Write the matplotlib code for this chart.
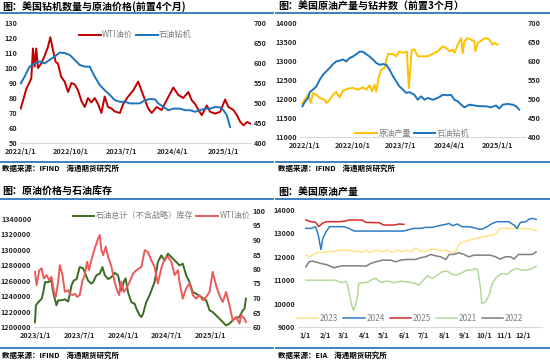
import matplotlib
matplotlib.use('Agg')
from matplotlib import pyplot as plt
from matplotlib.lines import Line2D
import pandas as pd

plt.rcParams['font.family'] = ['Noto Sans CJK SC', 'DejaVu Sans']
plt.rcParams['axes.unicode_minus'] = False

# ---- 图1: 美国钻机数量与原油价格(前置4个月) ----
wti1_dates = ['2022-01-03', '2022-02-02', '2022-03-01', '2022-03-10', '2022-03-19', '2022-03-28',
              '2022-04-06', '2022-04-24', '2022-05-12', '2022-05-30', '2022-06-12', '2022-06-26',
              '2022-07-11', '2022-07-23', '2022-08-10', '2022-08-28', '2022-09-16', '2022-10-04',
              '2022-10-22', '2022-11-09', '2022-11-27', '2022-12-15', '2023-01-02', '2023-01-20',
              '2023-02-07', '2023-02-25', '2023-03-15', '2023-04-02', '2023-04-20', '2023-05-09',
              '2023-05-27', '2023-06-23', '2023-07-11', '2023-08-07', '2023-09-03', '2023-09-30',
              '2023-10-27', '2023-11-23', '2023-12-12', '2024-01-08', '2024-02-04', '2024-03-02',
              '2024-04-07', '2024-05-04', '2024-05-31', '2024-06-27', '2024-07-15', '2024-08-03',
              '2024-08-21', '2024-09-08', '2024-10-05', '2024-10-23', '2024-11-19', '2024-12-16',
              '2025-01-12', '2025-01-30', '2025-02-26', '2025-03-17', '2025-04-04', '2025-04-22',
              '2025-05-10', '2025-05-28']
wti1_vals = [73, 86, 93, 113, 101, 113, 100, 103, 108, 114, 120.5, 112, 104, 103, 94, 91, 84, 90,
             89, 85, 78, 74, 80, 77, 80, 76, 70, 81, 74, 73, 71, 70, 76, 81, 85, 91, 82, 73, 70,
             74, 72, 78.6, 87, 82, 80, 84, 78.6, 76, 72, 68.5, 75, 70.8, 69.6, 70.8, 79, 74, 72,
             68.5, 64, 61.8, 64, 63]
rig1_dates = ['2022-01-03', '2022-01-24', '2022-02-20', '2022-03-19', '2022-04-15', '2022-05-12',
              '2022-06-08', '2022-07-05', '2022-08-01', '2022-08-28', '2022-09-25', '2022-10-22',
              '2022-11-18', '2022-12-15', '2023-01-11', '2023-02-07', '2023-03-06', '2023-04-02',
              '2023-04-30', '2023-05-27', '2023-06-23', '2023-07-20', '2023-08-16', '2023-09-12',
              '2023-10-09', '2023-11-05', '2023-12-03', '2023-12-30', '2024-01-17', '2024-02-13',
              '2024-03-11', '2024-04-07', '2024-05-13', '2024-06-09', '2024-07-06', '2024-08-03',
              '2024-08-30', '2024-09-26', '2024-10-23', '2024-11-19', '2024-12-16', '2025-01-03',
              '2025-01-21', '2025-02-08']
rig1_vals = [549, 566, 591, 599, 604, 599, 608, 616, 626, 625, 620, 608, 595, 591, 591, 566, 545,
             532, 520, 507, 503, 503, 499, 499, 499, 507, 510, 509, 499, 490, 482, 486, 486, 482,
             482, 478, 482, 486, 486, 490, 489, 482, 470, 440]

# ---- 图2: 美国原油产量与钻井数(前置3个月) ----
prod_dates = ['2021-12-19', '2022-01-01', '2022-01-20', '2022-02-04', '2022-02-17', '2022-03-08',
              '2022-03-27', '2022-04-24', '2022-05-04', '2022-05-23', '2022-06-11', '2022-06-29',
              '2022-07-18', '2022-08-06', '2022-09-04', '2022-10-02', '2022-10-30', '2022-11-28',
              '2022-12-16', '2023-01-04', '2023-01-18', '2023-02-02', '2023-02-11', '2023-02-24',
              '2023-03-11', '2023-03-30', '2023-04-18', '2023-05-17', '2023-06-04', '2023-06-23',
              '2023-07-12', '2023-08-04', '2023-08-15', '2023-09-01', '2023-09-16', '2023-10-05',
              '2023-12-01', '2024-01-08', '2024-01-27', '2024-02-24', '2024-03-14', '2024-04-02',
              '2024-04-21', '2024-04-30', '2024-05-19', '2024-06-07', '2024-06-16', '2024-06-26',
              '2024-07-15', '2024-08-03', '2024-08-21', '2024-08-27', '2024-09-09', '2024-10-08',
              '2024-10-26', '2024-11-14', '2024-12-03', '2024-12-13', '2025-01-01']
prod_vals = [11895, 11983, 12114, 11895, 12158, 12114, 12027, 11983, 11895, 11983, 12114, 12185,
             12044, 12220, 12272, 12290, 12246, 12307, 12246, 12360, 12202, 12377, 12185, 12553,
             12772, 12816, 13184, 13184, 13123, 13254, 13211, 13250, 12290, 13298, 13298, 13123,
             13123, 13211, 13254, 13386, 13342, 13254, 13298, 13211, 13430, 13605, 13211, 13518,
             13605, 13561, 13518, 13254, 13474, 13561, 13605, 13561, 13430, 13474, 13430]
rig2_dates = ['2021-12-19', '2022-01-01', '2022-01-20', '2022-01-29', '2022-02-17', '2022-03-08',
              '2022-03-27', '2022-04-15', '2022-05-04', '2022-05-23', '2022-06-11', '2022-06-29',
              '2022-07-18', '2022-08-06', '2022-08-25', '2022-09-13', '2022-10-02', '2022-10-21',
              '2022-11-09', '2022-11-28', '2022-12-16', '2023-01-04', '2023-01-23', '2023-02-11',
              '2023-03-02', '2023-03-21', '2023-04-09', '2023-04-28', '2023-05-17', '2023-06-04',
              '2023-06-23', '2023-07-12', '2023-07-31', '2023-08-19', '2023-09-16', '2023-10-05',
              '2023-10-24', '2023-11-12', '2023-12-01', '2023-12-29', '2024-01-27', '2024-02-24',
              '2024-03-23', '2024-04-11', '2024-04-30', '2024-05-19', '2024-06-07', '2024-06-26',
              '2024-07-24', '2024-08-21', '2024-09-19', '2024-10-26', '2024-11-24', '2024-12-22',
              '2025-01-10', '2025-01-29', '2025-02-26', '2025-03-27', '2025-04-15', '2025-05-03']
rig2_vals = [481, 492, 503, 518, 525, 533, 551, 564, 573, 582, 592, 599, 601, 604, 599, 608, 612,
             618, 625, 624, 618, 612, 604, 595, 590, 592, 590, 577, 560, 547, 533, 525, 516, 518,
             511, 498, 507, 498, 503, 498, 503, 511, 510, 511, 498, 494, 485, 478, 485, 483, 481,
             481, 478, 483, 475, 485, 487, 485, 481, 472]

# ---- 图3: 原油价格与石油库存 ----
stock_dates = ['2022-12-28', '2023-01-01', '2023-01-11', '2023-01-25', '2023-02-01', '2023-02-08',
               '2023-02-21', '2023-03-07', '2023-03-14', '2023-03-21', '2023-03-28', '2023-04-04',
               '2023-04-18', '2023-05-02', '2023-05-16', '2023-05-23', '2023-05-30', '2023-06-08',
               '2023-06-20', '2023-07-03', '2023-07-17', '2023-07-29', '2023-08-07', '2023-08-21',
               '2023-08-28', '2023-09-11', '2023-09-25', '2023-10-06', '2023-10-16', '2023-10-30',
               '2023-11-13', '2023-11-26', '2023-12-10', '2023-12-17', '2023-12-24', '2024-01-03',
               '2024-01-11', '2024-01-21', '2024-02-04', '2024-02-18', '2024-02-25', '2024-03-10',
               '2024-03-17', '2024-03-24', '2024-04-06', '2024-04-20', '2024-05-11', '2024-05-25',
               '2024-06-08', '2024-06-22', '2024-07-06', '2024-07-20', '2024-08-10', '2024-08-23',
               '2024-09-06', '2024-09-20', '2024-10-04', '2024-10-18', '2024-11-01', '2024-11-22',
               '2024-12-13', '2024-12-27', '2025-01-09', '2025-01-30', '2025-02-20', '2025-03-06',
               '2025-03-20', '2025-04-10', '2025-05-01', '2025-05-15', '2025-05-22', '2025-05-28']
stock_vals = [1206000, 1228000, 1232000, 1236600, 1245000, 1258000, 1258000, 1260000, 1245000,
              1236600, 1228000, 1234500, 1234500, 1235800, 1233000, 1243000, 1254000, 1260000,
              1262000, 1277500, 1276000, 1267000, 1260000, 1256000, 1258000, 1267000, 1269000,
              1277500, 1267000, 1262000, 1264600, 1270000, 1267000, 1258000, 1247000, 1258000,
              1263000, 1245000, 1232000, 1230000, 1223700, 1215000, 1213000, 1217200, 1232000,
              1241000, 1258000, 1284000, 1292600, 1286000, 1294800, 1290500, 1284000, 1279700,
              1281800, 1267000, 1258000, 1245000, 1243000, 1238800, 1234500, 1221500, 1219400,
              1213000, 1206500, 1202000, 1204300, 1210800, 1213000, 1221500, 1223700, 1236600]
wti3_dates = ['2022-12-28', '2023-01-04', '2023-01-15', '2023-01-25', '2023-02-03', '2023-02-14',
              '2023-02-26', '2023-03-07', '2023-03-17', '2023-03-25', '2023-04-04', '2023-04-11',
              '2023-04-22', '2023-05-02', '2023-05-16', '2023-05-23', '2023-06-03', '2023-06-13',
              '2023-06-22', '2023-07-03', '2023-07-15', '2023-07-24', '2023-08-03', '2023-08-11',
              '2023-08-21', '2023-09-04', '2023-09-18', '2023-09-25', '2023-10-02', '2023-10-09',
              '2023-10-20', '2023-10-30', '2023-11-13', '2023-11-26', '2023-12-06', '2023-12-15',
              '2023-12-24', '2024-01-03', '2024-01-14', '2024-01-28', '2024-02-11', '2024-02-25',
              '2024-03-17', '2024-03-31', '2024-04-13', '2024-04-27', '2024-05-11', '2024-05-25',
              '2024-06-08', '2024-06-22', '2024-07-06', '2024-07-20', '2024-08-03', '2024-08-17',
              '2024-08-23', '2024-09-06', '2024-09-20', '2024-10-04', '2024-10-18', '2024-11-01',
              '2024-11-15', '2024-11-29', '2024-12-13', '2024-12-27', '2025-01-09', '2025-01-23',
              '2025-02-06', '2025-02-20', '2025-03-06', '2025-03-20', '2025-04-03', '2025-04-17',
              '2025-05-01', '2025-05-08', '2025-05-22', '2025-05-28']
wti3_vals = [79, 74.4, 79.6, 80.2, 76.7, 77.9, 76.1, 77.3, 72.1, 70.4, 75.6, 81.3, 77.9, 72.1,
             72.7, 71.5, 71, 71.5, 70.4, 71, 76.1, 77.9, 82.5, 79.6, 83.1, 87.1, 90.5, 91.7, 86.5,
             84.8, 87.7, 84.2, 80.7, 75.6, 72.7, 71, 75.6, 72.1, 73.3, 75.6, 78.4, 79.6, 80.7,
             86.5, 85.9, 83.1, 80.7, 75, 80.2, 83.6, 84.2, 82.5, 77.9, 79.6, 75.6, 69.8, 73.3, 75,
             71, 69.8, 71, 69.2, 70.4, 72.1, 79, 74.4, 71, 68.6, 72.1, 67.5, 62.3, 63.5, 61.2, 64,
             62.9, 61.7]

# ---- 图4: 美国原油产量(季节性, 日序) ----
d2023 = [1, 6, 11, 19, 26, 37, 47, 52, 67, 75, 82, 87, 93, 98, 103, 110, 118, 126, 133, 141, 148,
         154, 161, 169, 176, 184, 192, 199, 207, 215, 222, 229, 235, 243, 250, 258, 265, 273, 281,
         288, 293, 298, 311, 331, 347, 353]
v2023 = [12071, 12000, 12071, 12186, 12186, 12214, 12243, 12286, 12286, 12214, 12243, 12186, 12286,
         12186, 12214, 12286, 12214, 12286, 12186, 12286, 12214, 12286, 12214, 12386, 12243, 12214,
         12329, 12329, 12243, 12286, 12214, 12186, 12529, 12643, 12714, 12757, 12814, 12857, 12900,
         12929, 13043, 13214, 13214, 13214, 13186, 13100]
d2024 = [1, 9, 16, 20, 24, 27, 32, 37, 59, 67, 75, 87, 108, 133, 150, 166, 176, 184, 194, 204, 215,
         220, 225, 232, 240, 250, 258, 265, 271, 278, 286, 293, 311, 319, 324, 329, 337, 343, 347,
         353]
v2024 = [13214, 13214, 13286, 12929, 12314, 12786, 13071, 13286, 13286, 13214, 13100, 13100, 13100,
         13100, 13100, 13214, 13214, 13257, 13257, 13328, 13386, 13428, 13328, 13400, 13286, 13286,
         13243, 13186, 13186, 13286, 13428, 13500, 13500, 13357, 13214, 13471, 13500, 13614, 13643,
         13600]
d2025 = [1, 9, 16, 21, 26, 32, 52, 62, 67, 87, 93, 113, 120, 136, 143, 151]
v2025 = [13571, 13500, 13471, 13286, 13428, 13500, 13500, 13528, 13571, 13571, 13471, 13457, 13357,
         13357, 13400, 13390]
d2021 = [1, 47, 52, 57, 62, 65, 68, 71, 74, 77, 80, 82, 87, 93, 98, 103, 108, 113, 118, 123, 128,
         133, 138, 146, 154, 161, 169, 174, 179, 187, 194, 202, 209, 217, 225, 232, 240, 248, 255,
         260, 264, 268, 270, 276, 281, 286, 293, 301, 309, 316, 324, 331, 339, 347, 353]
v2021 = [11000, 11000, 10929, 10900, 10957, 10786, 10357, 9929, 9714, 9929, 10357, 10857, 10900,
         10900, 10957, 11043, 11071, 10957, 10900, 10957, 10957, 10900, 10900, 10957, 10929, 10900,
         10857, 10786, 10957, 11186, 11071, 11214, 11357, 11386, 11243, 11214, 11329, 11429, 11429,
         11500, 11429, 10643, 10000, 10071, 10357, 10857, 11143, 11286, 11243, 11429, 11500, 11429,
         11429, 11500, 11600]
d2022 = [1, 6, 11, 19, 24, 32, 37, 44, 49, 57, 82, 93, 100, 108, 118, 131, 138, 146, 154, 169, 176,
         184, 192, 199, 207, 215, 220, 227, 235, 243, 250, 258, 265, 276, 283, 291, 298, 306, 314,
         319, 326, 337, 347, 353]
v2022 = [11571, 11786, 11814, 11757, 11714, 11671, 11614, 11529, 11571, 11614, 11614, 11600, 11714,
         11786, 11857, 11857, 11786, 11857, 11886, 11886, 11957, 12000, 12100, 12043, 12000, 11886,
         12100, 12100, 12171, 12100, 12000, 12071, 12071, 12071, 12071, 12000, 11900, 12000, 12000,
         11900, 12100, 12100, 12100, 12214]
month_days = [0, 31, 59, 90, 120, 151, 181, 212, 243, 273, 304, 334]
month_labels = ['1/1', '2/1', '3/1', '4/1', '5/1', '6/1', '7/1', '8/1', '9/1', '10/1', '11/1', '12/1']

BLUE_RULE = '#2E75B6'
TICK_FS = 5.2
LEG_FS = 5.9


def style(ax, twin=None):
    for a in [ax] + ([twin] if twin is not None else []):
        for s in ['top', 'left', 'right', 'bottom']:
            a.spines[s].set_visible(False)
        a.tick_params(length=0, labelsize=TICK_FS, pad=2)
        a.tick_params(axis='x', pad=3.8)
        for lab in a.get_xticklabels() + a.get_yticklabels():
            lab.set_fontweight('bold')
            lab.set_color('#262626')
    ax.spines['bottom'].set_visible(True)
    ax.spines['bottom'].set_color('#D9D9D9')
    ax.spines['bottom'].set_linewidth(0.8)


def date_ticks(ax, ticks):
    ax.set_xticks(pd.to_datetime(ticks))
    ax.set_xticklabels([f'{t.year}/{t.month}/{t.day}' for t in pd.to_datetime(ticks)])


def frame(fig, x0, x1, y_title, y_rule, y_rule2, y_src, title, src):
    fig.text(x0 + 0.004, y_title, title, fontsize=7.2, fontweight='bold', va='center', ha='left')
    fig.add_artist(Line2D([x0, x1], [y_rule, y_rule], color=BLUE_RULE, lw=1.3))
    fig.add_artist(Line2D([x0, x1], [y_rule2, y_rule2], color=BLUE_RULE, lw=1.3))
    fig.text(x0 + 0.004, y_src, src, fontsize=5.4, fontweight='bold', va='center', ha='left')


fig = plt.figure(figsize=(5.5, 3.61), dpi=100)
H = 361.0
W = 550.0


def pos(l, r, t, b):
    return [l / W, 1 - b / H, (r - l) / W, (b - t) / H]


# ---- panel 1 ----
ax1 = fig.add_axes(pos(20, 251, 23, 143))
ax1b = ax1.twinx()
l1, = ax1.plot(pd.to_datetime(wti1_dates), wti1_vals, color='#C00000', lw=1.4, label='WTI油价')
l2, = ax1b.plot(pd.to_datetime(rig1_dates), rig1_vals, color='#1C75BC', lw=1.4, label='石油钻机')
ax1.set_ylim(50, 130)
ax1.set_yticks(range(50, 131, 10))
ax1b.set_ylim(400, 700)
ax1b.set_yticks(range(400, 701, 50))
ax1.set_xlim(pd.Timestamp('2021-12-30'), pd.Timestamp('2025-06-01'))
date_ticks(ax1, ['2022-01-01', '2022-10-01', '2023-07-01', '2024-04-01', '2025-01-01'])
style(ax1, ax1b)
ax1b.legend(handles=[l1, l2], loc='upper center', bbox_to_anchor=(0.5, 1.0), ncol=2, frameon=False,
            fontsize=LEG_FS, labelcolor='#7F7F7F', handlelength=2.6, columnspacing=0.4,
            handletextpad=0.2)

# ---- panel 2 ----
ax2 = fig.add_axes(pos(300, 525, 23, 137))
ax2b = ax2.twinx()
p1, = ax2.plot(pd.to_datetime(prod_dates), prod_vals, color='#FFC000', lw=1.4, label='原油产量')
p2, = ax2b.plot(pd.to_datetime(rig2_dates), rig2_vals, color='#1C75BC', lw=1.4, label='石油钻机')
ax2.set_ylim(11000, 14000)
ax2.set_yticks(range(11000, 14001, 500))
ax2b.set_ylim(400, 700)
ax2b.set_yticks(range(400, 701, 50))
ax2.set_xlim(pd.Timestamp('2021-12-05'), pd.Timestamp('2025-06-05'))
date_ticks(ax2, ['2022-01-01', '2022-10-01', '2023-07-01', '2024-04-01', '2025-01-01'])
style(ax2, ax2b)
ax2b.legend(handles=[p1, p2], loc='lower center', bbox_to_anchor=(0.5, -0.07), ncol=2, frameon=False,
            fontsize=LEG_FS, labelcolor='#7F7F7F', handlelength=2.6, columnspacing=0.4,
            handletextpad=0.2)

# ---- panel 3 ----
ax3 = fig.add_axes(pos(34, 250, 211, 327))
ax3b = ax3.twinx()
s1, = ax3.plot(pd.to_datetime(stock_dates), stock_vals, color='#3B6B22', lw=1.4,
               label='石油总计（不含战略）库存')
s2, = ax3b.plot(pd.to_datetime(wti3_dates), wti3_vals, color='#EC5A5A', lw=1.4, label='WTI油价')
ax3.set_ylim(1200000, 1350000)
stock_ticks = list(range(1200000, 1340001, 20000))
ax3.set_yticks(stock_ticks)
ax3.set_yticklabels([str(v) for v in stock_ticks])
ax3b.set_ylim(60, 100)
ax3b.set_yticks(range(60, 101, 5))
ax3.set_xlim(pd.Timestamp('2022-12-24'), pd.Timestamp('2025-06-14'))
date_ticks(ax3, ['2023-01-01', '2023-07-01', '2024-01-01', '2024-07-01', '2025-01-01'])
style(ax3, ax3b)
ax3b.legend(handles=[s1, s2], loc='upper center', bbox_to_anchor=(0.59, 1.06), ncol=2, frameon=False,
            fontsize=LEG_FS, labelcolor='#7F7F7F', handlelength=2.6, columnspacing=0.4,
            handletextpad=0.2)

# ---- panel 4 ----
ax4 = fig.add_axes(pos(298, 542, 210, 327))
ax4.plot(d2023, v2023, color='#FFE28A', lw=1.1, label='2023')
ax4.plot(d2024, v2024, color='#2E7CC4', lw=1.1, label='2024')
ax4.plot(d2025, v2025, color='#D42A2A', lw=1.1, label='2025')
ax4.plot(d2021, v2021, color='#B5D89A', lw=1.1, label='2021')
ax4.plot(d2022, v2022, color='#7F7F7F', lw=1.1, label='2022')
ax4.set_ylim(9000, 14000)
ax4.set_yticks(range(9000, 14001, 1000))
ax4.set_xlim(-11, 362)
ax4.set_xticks(month_days)
ax4.set_xticklabels(month_labels)
style(ax4)
ax4.legend(loc='lower center', bbox_to_anchor=(0.46, -0.03), ncol=5, frameon=False,
           fontsize=LEG_FS, labelcolor='#7F7F7F', handlelength=2.6, columnspacing=0.6,
           handletextpad=0.2)

# ---- titles, rules, sources ----
frame(fig, 0.0, 0.496, 1 - 7 / H, 1 - 13 / H, 1 - 162 / H, 1 - 168 / H,
      '图：美国钻机数量与原油价格(前置4个月)', '数据来源：IFIND    海通期货研究所')
frame(fig, 0.502, 1.0, 1 - 7 / H, 1 - 13 / H, 1 - 162 / H, 1 - 168 / H,
      '图：美国原油产量与钻井数（前置3个月）', '数据来源：IFIND    海通期货研究所')
frame(fig, 0.0, 0.496, 1 - 192 / H, 1 - 199 / H, 1 - 348 / H, 1 - 355 / H,
      '图：原油价格与石油库存', '数据来源：IFIND    海通期货研究所')
frame(fig, 0.502, 1.0, 1 - 192 / H, 1 - 199 / H, 1 - 348 / H, 1 - 355 / H,
      '图：美国原油产量', '数据来源：EIA    海通期货研究所')

fig.savefig('out.png', dpi=100)
